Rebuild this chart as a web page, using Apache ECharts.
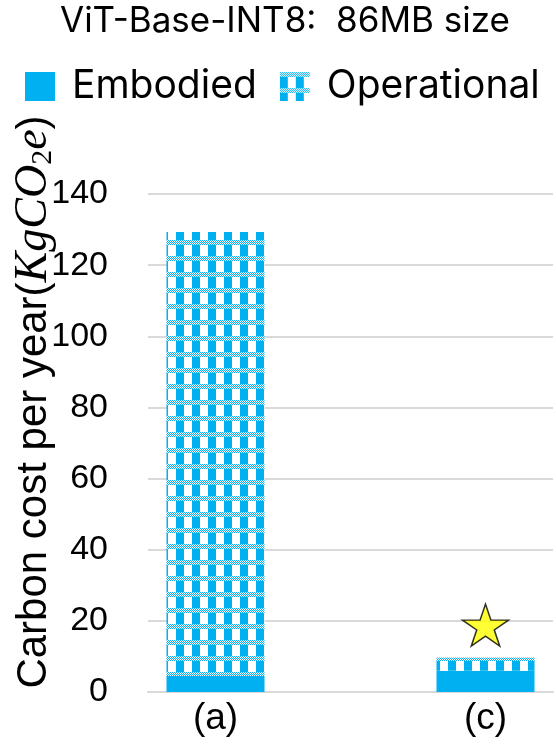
<!DOCTYPE html>
<html><head><meta charset="utf-8">
<script src="https://cdn.jsdelivr.net/npm/echarts@6/dist/echarts.min.js"></script>
<style>html,body{margin:0;padding:0;background:#fff}#c{width:556px;height:745px}</style>
</head><body><div id="c"></div>
<script>
var categories = ['(a)', '', '(c)'];
var embodied = [4.5, null, 6.0];
var operational = [124.8, null, 3.7];
var starValues = [null, null, 18.8];
var yTicks = [0, 20, 40, 60, 80, 100, 120, 140];

var BLUE = '#00B0F0';
var cv = document.createElement('canvas');
cv.width = 16; cv.height = 16;
var ctx = cv.getContext('2d');
ctx.fillStyle = '#fff'; ctx.fillRect(0, 0, 16, 16);
ctx.fillStyle = BLUE; ctx.fillRect(0, 0, 8, 16);
for (var y = 0; y < 5; y++) {
  for (var x = 0; x < 16; x++) {
    ctx.fillStyle = ((x + y) % 2 === 0) ? BLUE : '#fff';
    ctx.fillRect(x, y, 1, 1);
  }
}
var pattern = { image: cv, repeat: 'repeat' };

var starPath = 'path://M50,0 L61.8,36.2 L100,36.2 L69.1,58.6 L80.9,95.1 L50,72.6 L19.1,95.1 L30.9,58.6 L0,36.2 L38.2,36.2 Z';

var chart = echarts.init(document.getElementById('c'), null, { renderer: 'canvas' });
chart.setOption({
  animation: false,
  title: {
    text: 'ViT-Base-INT8:  86MB size',
    left: 55, top: -1,
    textStyle: { fontFamily: 'Inter', fontSize: 35, fontWeight: 'normal', color: '#000' }
  },
  legend: {
    data: [{ name: 'Embodied', icon: 'rect' }, { name: 'Operational', icon: 'rect' }],
    left: 20, top: 62,
    itemWidth: 30, itemHeight: 29, itemGap: 23,
    textStyle: { fontFamily: 'Inter', fontSize: 39, color: '#000', padding: [0, 0, 0, 12] }
  },
  grid: { left: 148, right: 3, top: 194, bottom: 53, containLabel: false, outerBoundsMode: 'none' },
  xAxis: {
    type: 'category', data: categories,
    axisTick: { show: false },
    axisLine: { lineStyle: { color: '#d9d9d9', width: 2 } },
    axisLabel: { fontFamily: 'Liberation Sans', fontSize: 37, color: '#000', margin: 8 }
  },
  yAxis: {
    type: 'value', min: yTicks[0], max: yTicks[yTicks.length - 1], interval: 20,
    axisLine: { show: false }, axisTick: { show: false },
    splitLine: { lineStyle: { color: '#d9d9d9', width: 2 } },
    axisLabel: { fontFamily: 'Liberation Sans', fontSize: 34, color: '#000', margin: 40 },
    name: '{n|Carbon cost per year(}{m|KgCO}{s|2}{m|e}{n|)}',
    nameLocation: 'middle', nameRotate: 90, nameGap: 90,
    nameMoveOverlap: false,
    nameTextStyle: {
      padding: [0, 0, 0, 82],
      rich: {
        n: { fontFamily: 'Liberation Sans', fontSize: 42, color: '#000' },
        m: { fontFamily: 'Liberation Serif', fontStyle: 'italic', fontSize: 46, color: '#000' },
        s: { fontFamily: 'Liberation Serif', fontSize: 30, color: '#000', verticalAlign: 'bottom', padding: [18, 0, 0, 0] }
      }
    }
  },
  series: [
    { name: 'Embodied', type: 'bar', stack: 'total', barWidth: 98, data: embodied,
      itemStyle: { color: BLUE } },
    { name: 'Operational', type: 'bar', stack: 'total', barWidth: 98, data: operational,
      itemStyle: { color: pattern } },
    { name: 'Star', type: 'scatter', data: starValues, symbol: starPath, symbolSize: [46, 42],
      itemStyle: { color: '#FFFF00', borderColor: '#000', borderWidth: 1.5 }, z: 5 }
  ]
});
</script></body></html>
